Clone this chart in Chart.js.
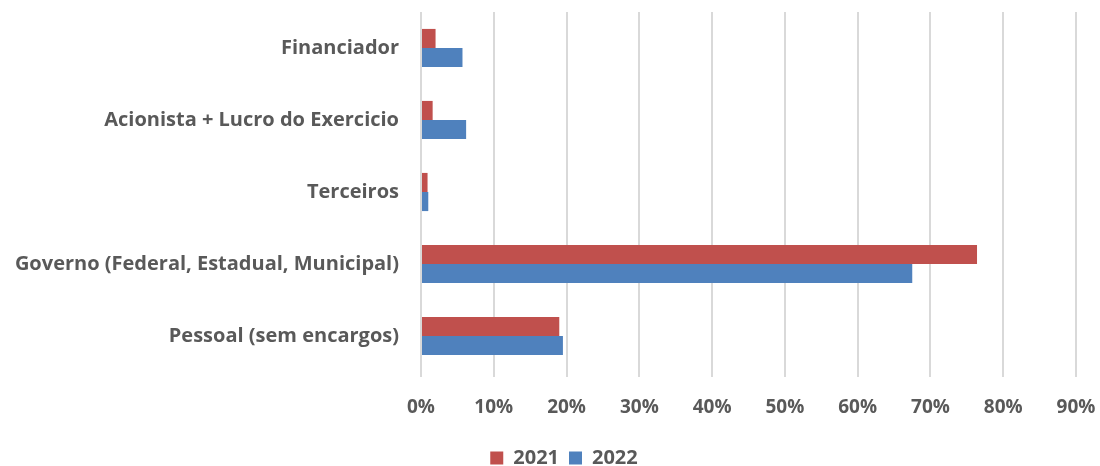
<!DOCTYPE html>
<html>
<head>
<meta charset="utf-8">
<script src="https://cdn.jsdelivr.net/npm/chart.js@4"></script>
<style>
  html, body { margin: 0; padding: 0; background: #fff; }
  #wrap { width: 1100px; height: 466px; }
</style>
</head>
<body>
<div id="wrap"><canvas id="graficoBarras"></canvas></div>
<script>
// categorias (de cima para baixo)
const categorias = [
    'Financiador',
    'Acionista + Lucro do Exercicio',
    'Terceiros',
    'Governo (Federal, Estadual, Municipal)',
    'Pessoal (sem encargos)'
];

// valores em %
const valores2021 = [2.0, 1.6, 0.9, 76.4, 19.0];
const valores2022 = [5.7, 6.2, 1.0, 67.5, 19.5];

const ticksX = [0, 10, 20, 30, 40, 50, 60, 70, 80, 90];

const corTexto = '#595959';
const fonte = '"Open Sans", sans-serif';

const ctx = document.getElementById('graficoBarras').getContext('2d');

new Chart(ctx, {
    type: 'bar',
    data: {
        labels: categorias,
        datasets: [
            {
                label: '2021',
                data: valores2021,
                backgroundColor: '#c0504d',
                borderWidth: 0
            },
            {
                label: '2022',
                data: valores2022,
                backgroundColor: '#4f81bd',
                borderWidth: 0
            }
        ]
    },
    options: {
        indexAxis: 'y',
        responsive: true,
        maintainAspectRatio: false,
        animation: false,
        layout: {
            padding: { top: 12, right: 24, left: 0, bottom: -12 }
        },
        datasets: {
            bar: {
                barPercentage: 1,
                categoryPercentage: 0.53
            }
        },
        plugins: {
            legend: {
                position: 'bottom',
                labels: {
                    boxWidth: 13,
                    boxHeight: 13,
                    padding: 10,
                    color: corTexto,
                    font: { family: fonte, size: 20, weight: 'bold' }
                }
            },
            tooltip: { enabled: false }
        },
        scales: {
            x: {
                min: 0,
                max: 90,
                afterBuildTicks(scale) {
                    scale.ticks = ticksX.map(v => ({ value: v }));
                },
                afterFit(scale) {
                    scale.height = 66;
                    scale.paddingLeft = 0;
                    scale.paddingRight = 0;
                },
                ticks: {
                    color: corTexto,
                    padding: 19,
                    font: { family: fonte, size: 19, weight: 'bold' },
                    callback: v => v + '%'
                },
                grid: {
                    color: '#d9d9d9',
                    lineWidth: 2,
                    tickLength: 5
                },
                border: { display: false }
            },
            y: {
                afterFit(scale) {
                    scale.width = 421;
                    scale.paddingTop = 0;
                    scale.paddingBottom = 0;
                },
                ticks: {
                    color: corTexto,
                    padding: 14,
                    font: { family: fonte, size: 20, weight: 'bold' }
                },
                grid: { display: false },
                border: { display: false }
            }
        }
    },
    plugins: [{
        // legenda um pouco à direita, como no original
        id: 'desviaLegenda',
        afterLayout(chart) {
            chart.legend.left += 26;
            chart.legend.right += 26;
        }
    }]
});
</script>
</body>
</html>
